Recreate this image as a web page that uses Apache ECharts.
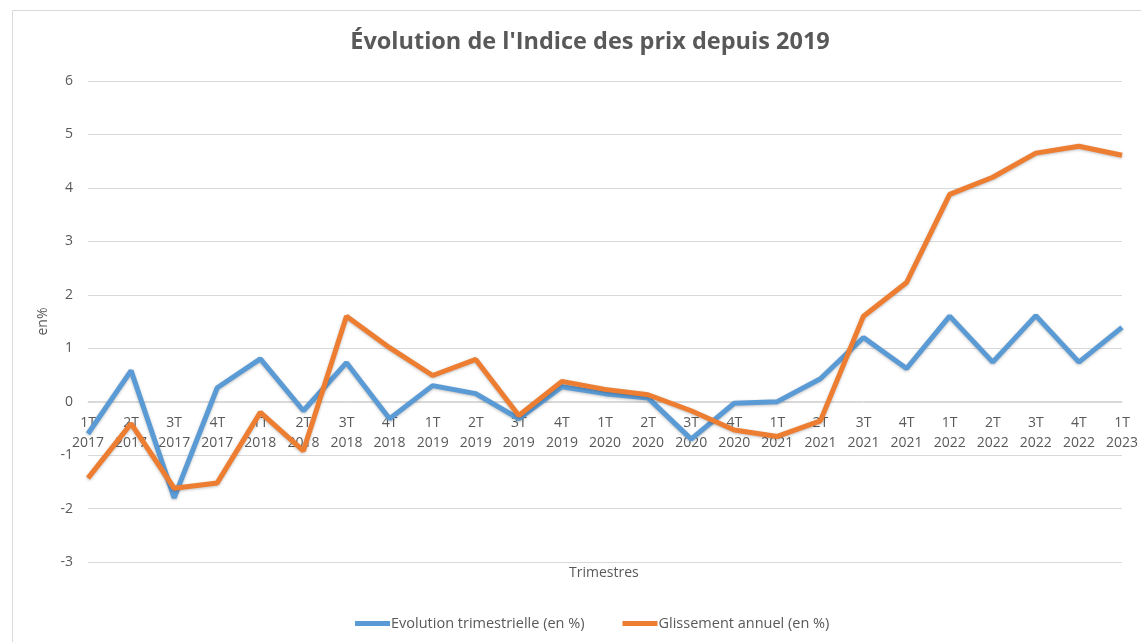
<!DOCTYPE html>
<html>
<head>
<meta charset="utf-8">
<script src="https://cdn.jsdelivr.net/npm/echarts@6/dist/echarts.min.js"></script>
<style>
  html, body { margin: 0; padding: 0; background: #fff; }
  #chart { width: 1141px; height: 642px; }
</style>
</head>
<body>
<div id="chart"></div>
<script>
// trimestres
const quarters = [
  '1T\n2017', '2T\n2017', '3T\n2017', '4T\n2017',
  '1T\n2018', '2T\n2018', '3T\n2018', '4T\n2018',
  '1T\n2019', '2T\n2019', '3T\n2019', '4T\n2019',
  '1T\n2020', '2T\n2020', '3T\n2020', '4T\n2020',
  '1T\n2021', '2T\n2021', '3T\n2021', '4T\n2021',
  '1T\n2022', '2T\n2022', '3T\n2022', '4T\n2022',
  '1T\n2023'
]

// Evolution trimestrielle (en %)
const evolTrim = [
  -0.6, 0.58, -1.8, 0.26,
  0.8, -0.17, 0.73, -0.32,
  0.3, 0.15, -0.32, 0.28,
  0.15, 0.07, -0.7, -0.03,
  0.0, 0.43, 1.2, 0.62,
  1.6, 0.74, 1.61, 0.74,
  1.39
]

// Glissement annuel (en %)
const glissAnnuel = [
  -1.43, -0.41, -1.62, -1.52,
  -0.2, -0.92, 1.6, 1.01,
  0.49, 0.79, -0.26, 0.38,
  0.23, 0.13, -0.17, -0.53,
  -0.65, -0.36, 1.6, 2.23,
  3.88, 4.2, 4.65, 4.78,
  4.61
]

const seriesNames = ['Evolution trimestrielle (en %)', 'Glissement annuel (en %)']

const textColor = '#595959'
const fontFamily = 'Open Sans, sans-serif'

const chart = echarts.init(document.getElementById('chart'))

const option = {
  animation: false,
  backgroundColor: '#fff',
  title: {
    text: "Évolution de l'Indice des prix depuis 2019",
    left: 585,
    top: 25,
    textAlign: 'center',
    textStyle: {
      color: textColor,
      fontSize: 23.5,
      fontWeight: 'bold',
      fontFamily: fontFamily
    }
  },
  graphic: [
    {
      type: 'rect',
      shape: { x: 12.5, y: 10.5, width: 1160, height: 660 },
      style: { fill: 'none', stroke: '#d9d9d9', lineWidth: 1 },
      silent: true
    },
    {
      type: 'text',
      left: 569,
      top: 566,
      style: {
        text: 'Trimestres',
        fill: textColor,
        fontSize: 14,
        fontFamily: fontFamily
      }
    }
  ],
  legend: {
    bottom: 6,
    left: 350,
    itemWidth: 35,
    itemHeight: 5,
    itemGap: 38,
    icon: 'rect',
    data: seriesNames,
    textStyle: {
      color: textColor,
      fontSize: 14.5,
      fontFamily: fontFamily,
      padding: [0, 0, 0, -4]
    }
  },
  grid: {
    left: 88,
    right: 18,
    top: 81,
    bottom: 80
  },
  xAxis: {
    type: 'category',
    data: quarters,
    boundaryGap: false,
    offset: -160,
    axisLine: {
      onZero: false,
      lineStyle: { color: '#d9d9d9', width: 1 }
    },
    axisTick: { show: false },
    axisLabel: {
      color: textColor,
      fontSize: 14,
      fontFamily: fontFamily,
      lineHeight: 20,
      margin: 11,
      interval: 0
    }
  },
  yAxis: {
    type: 'value',
    min: -3,
    max: 6,
    interval: 1,
    name: 'en%',
    nameLocation: 'middle',
    nameGap: 33,
    nameRotate: 90,
    nameTextStyle: {
      color: textColor,
      fontSize: 14,
      fontFamily: fontFamily
    },
    axisLine: { show: false },
    axisTick: { show: false },
    axisLabel: {
      color: textColor,
      fontSize: 14,
      fontFamily: fontFamily,
      margin: 15
    },
    splitLine: {
      lineStyle: { color: '#d9d9d9', width: 1 }
    }
  },
  series: [
    {
      name: seriesNames[0],
      type: 'line',
      data: evolTrim,
      symbol: 'none',
      z: 3,
      itemStyle: { color: '#5b9bd5' },
      lineStyle: {
        color: '#5b9bd5',
        width: 5,
        shadowColor: 'rgba(0,0,0,0.25)',
        shadowBlur: 3,
        shadowOffsetY: 1
      }
    },
    {
      name: seriesNames[1],
      type: 'line',
      data: glissAnnuel,
      symbol: 'none',
      z: 4,
      itemStyle: { color: '#ed7d31' },
      lineStyle: {
        color: '#ed7d31',
        width: 5,
        shadowColor: 'rgba(0,0,0,0.25)',
        shadowBlur: 3,
        shadowOffsetY: 1
      }
    }
  ]
}

chart.setOption(option)
</script>
</body>
</html>
